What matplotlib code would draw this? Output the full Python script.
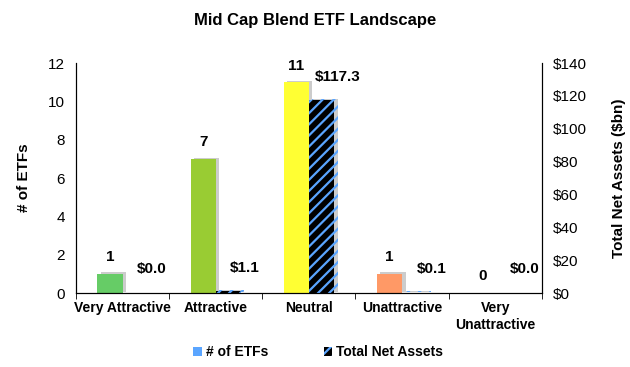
import matplotlib.pyplot as plt
import matplotlib.patheffects as pe
from matplotlib.patches import Patch
import numpy as np

plt.rcParams.update({
    "font.family": ["Liberation Sans", "DejaVu Sans"],
    "font.size": 10,
    "hatch.linewidth": 1.6,
})

categories = ["Very Attractive", "Attractive", "Neutral", "Unattractive", "Very\nUnattractive"]
etf_counts = [1, 7, 11, 1, 0]
net_assets = [0.0, 1.1, 117.3, 0.1, 0.0]
count_colors = ["#66cc66", "#99cc33", "#ffff33", "#ff9966", "#bfbfbf"]

fig = plt.figure(figsize=(6.3, 3.67), dpi=100)
ax = fig.add_axes([0.1206, 0.2016, 0.7394, 0.6264])
ax2 = ax.twinx()

x = np.arange(len(categories))
w = 0.27
shadow = [pe.SimplePatchShadow(offset=(2.5, 1), shadow_rgbFace="#808080", alpha=0.4), pe.Normal()]

bars1 = ax.bar(x - w / 2, etf_counts, w, color=count_colors, linewidth=0, path_effects=shadow)
bars2 = ax2.bar(x + w / 2, net_assets, w, color="black", edgecolor="#5aa5ff",
                hatch="///", linewidth=0, path_effects=shadow)

for xi, v in zip(x, etf_counts):
    ax.annotate(f"{v}", (xi - w / 2, v), xytext=(0, 7), textcoords="offset points",
                ha="center", va="bottom", fontweight="bold", fontsize=11)
for xi, v in zip(x, net_assets):
    ax2.annotate(f"${v:.1f}", (xi + w / 2, v), xytext=(12, 12), textcoords="offset points",
                 ha="center", va="bottom", fontweight="bold", fontsize=11)

ax.set_xlim(-0.5, len(categories) - 0.5)
ax.set_ylim(0, 12)
ax2.set_ylim(0, 140)
ax.set_yticks(range(0, 13, 2))
ax2.set_yticks(range(0, 141, 20))
ax2.set_yticklabels([f"${t}" for t in range(0, 141, 20)])

ax.set_xticks(x)
ax.set_xticklabels(categories, fontweight="bold")
ax.set_xticks(np.arange(-0.5, len(categories)), minor=True)
ax.tick_params(axis="x", which="major", length=0, pad=6)
ax.tick_params(axis="x", which="minor", length=4, direction="out")
ax.tick_params(axis="y", length=0, labelsize=11, pad=8)
ax2.tick_params(axis="y", length=0, labelsize=11, pad=8)

for a in (ax, ax2):
    a.spines["top"].set_visible(False)
ax.set_ylabel("# of ETFs", fontweight="bold", fontsize=11, labelpad=12)
ax2.set_ylabel("Total Net Assets ($bn)", fontweight="bold", fontsize=11, labelpad=18)

fig.suptitle("Mid Cap Blend ETF Landscape", fontweight="bold", fontsize=12, x=0.5, y=0.965)

handles = [Patch(facecolor="#5aa5ff", linewidth=0),
           Patch(facecolor="black", edgecolor="#5aa5ff", hatch="///", linewidth=0)]
fig.legend(handles, ["# of ETFs", "Total Net Assets"], loc="center", bbox_to_anchor=(0.505, 0.04),
           ncol=2, frameon=False, handlelength=0.6, handleheight=0.6, handletextpad=0.3,
           columnspacing=4, prop={"weight": "bold", "size": 10})

fig.savefig("out.png", dpi=100)
